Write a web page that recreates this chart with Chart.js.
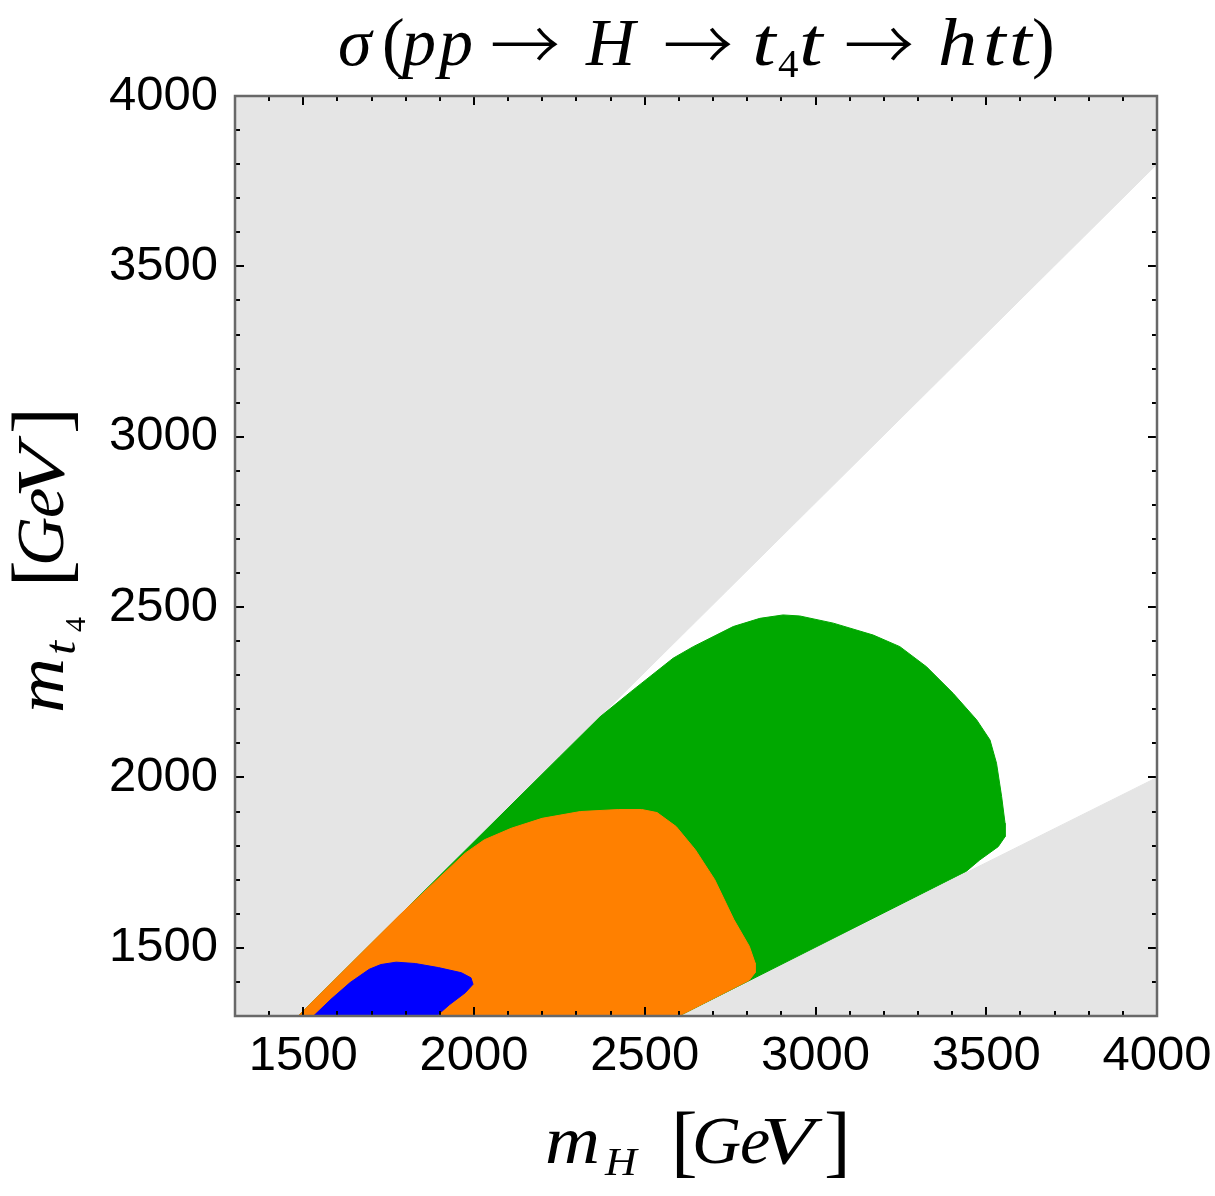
<!DOCTYPE html>
<html>
<head>
<meta charset="utf-8">
<script src="https://cdn.jsdelivr.net/npm/chart.js@4.4.1/dist/chart.umd.min.js"></script>
<style>
html,body{margin:0;padding:0;background:#fff;}
#wrap{width:1215px;height:1196px;position:relative;}
</style>
</head>
<body>
<div id="wrap"><canvas id="c"></canvas></div>
<script>
// ---- axis ranges and ticks ----
const xRange = [1300, 4000];
const yRange = [1300, 4000];
const majorTicks = [1500, 2000, 2500, 3000, 3500, 4000];
const minorStep = 100;

// ---- kinematically excluded regions (grey) ----
const upperExclX = [1300, 1485, 4000, 4000, 1300];
const upperExclY = [1300, 1300, 3800, 4000, 4000];
const lowerExclX = [2600, 4000, 4000];
const lowerExclY = [1300, 2000, 1300];

// ---- green contour ----
const greenX = [1485, 2250, 2369, 2466, 2583, 2642, 2759, 2837, 2905, 2954, 3052, 3169, 3247, 3325, 3403, 3472, 3511, 3530, 3545, 3555, 3555, 3535, 3481, 3442, 2600];
const greenY = [1300, 2060, 2178, 2257, 2350, 2384, 2443, 2467, 2477, 2474, 2453, 2418, 2384, 2325, 2247, 2169, 2110, 2042, 1944, 1866, 1826, 1797, 1758, 1725, 1300];

// ---- orange contour ----
const orangeX = [1485, 1780, 1862, 1974, 2030, 2109, 2199, 2311, 2424, 2491, 2536, 2592, 2648, 2705, 2761, 2806, 2823, 2823, 2806, 2600];
const orangeY = [1300, 1594, 1672, 1778, 1817, 1851, 1880, 1900, 1906, 1906, 1897, 1856, 1788, 1700, 1583, 1505, 1456, 1427, 1405, 1300];

// ---- blue contour ----
const blueX = [1530, 1581, 1637, 1693, 1727, 1772, 1828, 1896, 1963, 1991, 1997, 1974, 1929, 1890];
const blueY = [1300, 1349, 1398, 1437, 1451, 1458, 1454, 1442, 1427, 1412, 1393, 1368, 1334, 1300];

const colors = {grey: '#e5e5e5', green: '#00a800', orange: '#ff8000', blue: '#0000ff'};

function pts(xs, ys) { return xs.map((x, i) => ({x: x, y: ys[i]})); }
function region(label, xs, ys, color) {
  return {
    label: label,
    data: pts(xs, ys),
    showLine: true,
    fill: 'shape',
    backgroundColor: color,
    borderColor: color,
    borderWidth: 1,
    pointRadius: 0,
    tension: 0
  };
}

const SERIF = '"Liberation Serif", "DejaVu Serif", serif';
const SANS = '"Liberation Sans", Arial, sans-serif';
const ARROWF = '300 70px "Noto Sans CJK JP", "DejaVu Sans", sans-serif';
const IT = 'italic 68px ' + SERIF;
const RM = '68px ' + SERIF;
const BR = '80px ' + SERIF;

// each piece: text, font, offset from the label start, vertical shift, horizontal stretch
function drawAt(ctx, segs, left, baseline) {
  segs.forEach(s => {
    ctx.save();
    ctx.font = s.font;
    ctx.translate(left + s.x, baseline + (s.dy || 0));
    ctx.scale(s.sx || 1, 1);
    ctx.fillText(s.t, 0, 0);
    ctx.restore();
  });
}

const titleSegs = [
  {t: 'σ', font: IT, x: 0},
  {t: '(', font: RM, x: 44},
  {t: 'p', font: IT, x: 64},
  {t: 'p', font: IT, x: 101},
  {t: '→', font: ARROWF, x: 152, dy: 6},
  {t: 'H', font: IT, x: 248},
  {t: '→', font: ARROWF, x: 325, dy: 6},
  {t: 't', font: IT, x: 414, sx: 1.25},
  {t: '4', font: '41px ' + SERIF, x: 440, dy: 12},
  {t: 't', font: IT, x: 461, sx: 1.25},
  {t: '→', font: ARROWF, x: 506, dy: 6},
  {t: 'h', font: IT, x: 600, sx: 1.15},
  {t: 't', font: IT, x: 645, sx: 1.2},
  {t: 't', font: IT, x: 671, sx: 1.2},
  {t: ')', font: RM, x: 694}
];

const xTitleSegs = [
  {t: 'm', font: IT, x: 0, sx: 1.12},
  {t: 'H', font: 'italic 40px ' + SERIF, x: 60, dy: 12, sx: 1.1},
  {t: '[', font: BR, x: 126, dy: 4},
  {t: 'G', font: IT, x: 147},
  {t: 'e', font: IT, x: 195},
  {t: 'V', font: IT, x: 215, sx: 1.3},
  {t: ']', font: BR, x: 279, dy: 4}
];

const yTitleSegs = [
  {t: 'm', font: IT, x: 0, sx: 1.12},
  {t: 't', font: 'italic 44px ' + SERIF, x: 58, dy: 12, sx: 1.15},
  {t: '4', font: '30px ' + SERIF, x: 81, dy: 22},
  {t: '[', font: BR, x: 126, dy: 4},
  {t: 'G', font: IT, x: 147},
  {t: 'e', font: IT, x: 195},
  {t: 'V', font: IT, x: 215, sx: 1.3},
  {t: ']', font: BR, x: 279, dy: 4}
];

const framePlugin = {
  id: 'frameTicks',
  afterDatasetsDraw(chart) {
    const {ctx, chartArea: a, scales: {x, y}} = chart;
    ctx.save();
    ctx.strokeStyle = '#000';
    ctx.lineWidth = 2;
    ctx.beginPath();
    for (let v = xRange[0]; v <= xRange[1]; v += minorStep) {
      const len = majorTicks.includes(v) ? 9 : 5;
      const px = Math.round(x.getPixelForValue(v));
      ctx.moveTo(px, a.bottom); ctx.lineTo(px, a.bottom - len);
      ctx.moveTo(px, a.top); ctx.lineTo(px, a.top + len);
    }
    for (let v = yRange[0]; v <= yRange[1]; v += minorStep) {
      const len = majorTicks.includes(v) ? 9 : 5;
      const py = Math.round(y.getPixelForValue(v));
      ctx.moveTo(a.left, py); ctx.lineTo(a.left + len, py);
      ctx.moveTo(a.right, py); ctx.lineTo(a.right - len, py);
    }
    ctx.stroke();
    ctx.strokeStyle = '#686868';
    ctx.lineWidth = 2.5;
    ctx.strokeRect(a.left, a.top, a.right - a.left, a.bottom - a.top);
    ctx.restore();
  },
  afterDraw(chart) {
    const {ctx, chartArea: a} = chart;
    ctx.save();
    ctx.fillStyle = '#000';
    ctx.textBaseline = 'alphabetic';
    const cx = (a.left + a.right) / 2;
    drawAt(ctx, titleSegs, cx - 358, 65);
    drawAt(ctx, xTitleSegs, cx - 151, 1163);
    const cy = (a.top + a.bottom) / 2;
    ctx.translate(63, cy);
    ctx.rotate(-Math.PI / 2);
    drawAt(ctx, yTitleSegs, -157, 0);
    ctx.restore();
  }
};

const tickFmt = v => String(v);

new Chart(document.getElementById('c'), {
  type: 'scatter',
  data: {
    datasets: [
      region('blue', blueX, blueY, colors.blue),
      region('orange', orangeX, orangeY, colors.orange),
      region('green', greenX, greenY, colors.green),
      region('excluded upper', upperExclX, upperExclY, colors.grey),
      region('excluded lower', lowerExclX, lowerExclY, colors.grey)
    ]
  },
  options: {
    responsive: true,
    maintainAspectRatio: false,
    animation: false,
    events: [],
    layout: {padding: {top: 96, left: 0, right: 58, bottom: 0}},
    plugins: {
      legend: {display: false},
      tooltip: {enabled: false},
      title: {display: false}
    },
    scales: {
      x: {
        type: 'linear',
        min: xRange[0], max: xRange[1],
        afterBuildTicks: s => { s.ticks = majorTicks.map(v => ({value: v})); },
        afterFit: s => { s.height = 180; s.paddingRight = 0; s.paddingLeft = 0; },
        grid: {display: false, drawTicks: false},
        border: {display: false},
        ticks: {color: '#000', font: {family: SANS, size: 49}, padding: 11, maxRotation: 0, autoSkip: false, callback: tickFmt}
      },
      y: {
        type: 'linear',
        min: yRange[0], max: yRange[1],
        afterBuildTicks: s => { s.ticks = majorTicks.map(v => ({value: v})); },
        afterFit: s => { s.width = 235; s.paddingTop = 0; s.paddingBottom = 0; },
        grid: {display: false, drawTicks: false},
        border: {display: false},
        ticks: {color: '#000', font: {family: SANS, size: 49}, padding: 17, autoSkip: false, callback: tickFmt}
      }
    }
  },
  plugins: [framePlugin]
});
</script>
</body>
</html>
